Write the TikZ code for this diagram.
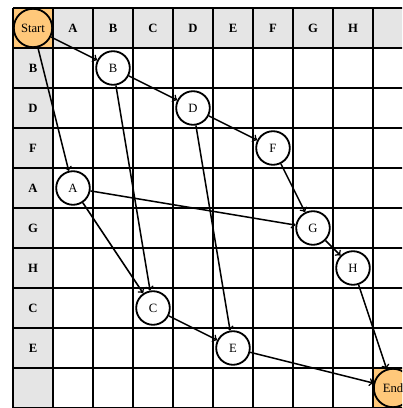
\documentclass[tikz,border=0pt]{standalone}
\usepackage{fontspec}
\setmainfont{Liberation Serif}
\definecolor{termorange}{RGB}{255,200,122}
\definecolor{hdrgray}{RGB}{229,229,229}
\begin{document}
\begin{tikzpicture}[x=1cm,y=1cm,
  gridline/.style={line width=1.6pt},
  hdr/.style={font=\bfseries\fontsize{9}{10}\selectfont},
  vtx/.style={circle,draw,line width=1.3pt,fill=white,minimum size=0.84cm,inner sep=0pt,font=\fontsize{9}{10}\selectfont},
  termvtx/.style={vtx,fill=termorange,minimum size=0.96cm},
  conn/.style={->,>=to,line width=1.1pt}]
\clip (-0.325,0.2) rectangle (9.725,-10.0);
\fill[white] (-0.325,0.2) rectangle (9.725,-10.0);
% header fills
\fill[hdrgray] (1,0) rectangle (10,-1);
\fill[hdrgray] (0,-1) rectangle (1,-10);
\fill[termorange] (0,0) rectangle (1,-1);
\fill[termorange] (9,-9) rectangle (10,-10);
% grid
\draw[gridline] (0,0) grid (10,-10);
% header labels
\foreach \l [count=\i] in {A,B,C,D,E,F,G,H} {
  \node[hdr] (col\i) at (\i+0.5,-0.5) {\l};
}
\foreach \l [count=\i] in {B,D,F,A,G,H,C,E} {
  \node[hdr] (row\i) at (0.5,-\i-0.5) {\l};
}
% nodes
\node[termvtx] (start) at (0.5,-0.5) {Start};
\node[vtx] (B) at (2.5,-1.5) {B};
\node[vtx] (D) at (4.5,-2.5) {D};
\node[vtx] (F) at (6.5,-3.5) {F};
\node[vtx] (A) at (1.5,-4.5) {A};
\node[vtx] (G) at (7.5,-5.5) {G};
\node[vtx] (H) at (8.5,-6.5) {H};
\node[vtx] (C) at (3.5,-7.5) {C};
\node[vtx] (E) at (5.5,-8.5) {E};
\node[termvtx] (end) at (9.5,-9.5) {End};
% connectors
\draw[conn] (start) -- (B);
\draw[conn] (start) -- (A);
\draw[conn] (B) -- (D);
\draw[conn] (B) -- (C);
\draw[conn] (D) -- (F);
\draw[conn] (D) -- (E);
\draw[conn] (F) -- (G);
\draw[conn] (A) -- (G);
\draw[conn] (A) -- (C);
\draw[conn] (G) -- (H);
\draw[conn] (C) -- (E);
\draw[conn] (H) -- (end);
\draw[conn] (E) -- (end);
\end{tikzpicture}
\end{document}
